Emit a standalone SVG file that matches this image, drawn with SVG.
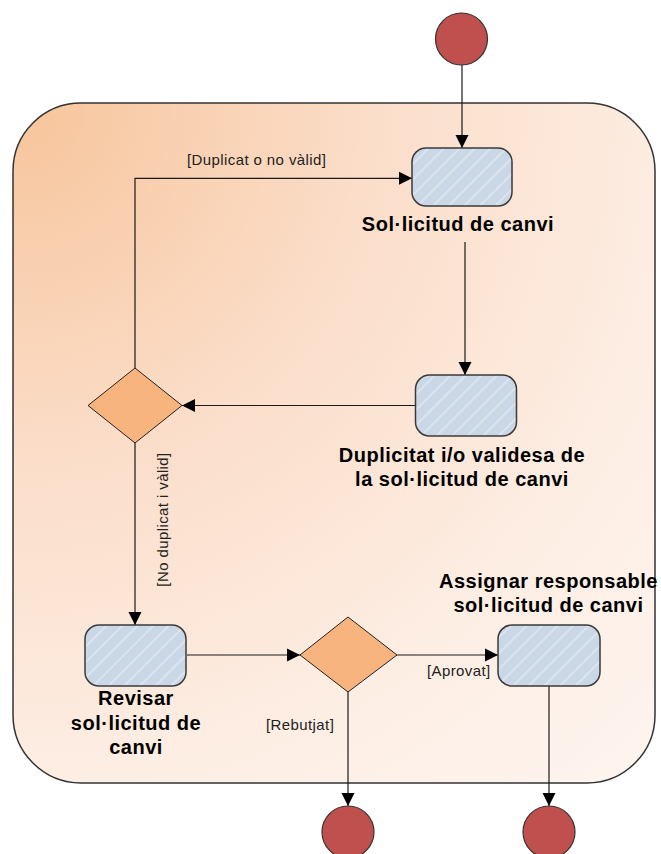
<svg xmlns="http://www.w3.org/2000/svg" width="661" height="854" viewBox="0 0 661 854">
<defs>
<radialGradient id="bg" gradientUnits="userSpaceOnUse" cx="20" cy="110" r="900">
<stop offset="0" stop-color="#F7C59C"/>
<stop offset="0.4" stop-color="#FBDECA"/>
<stop offset="0.75" stop-color="#FDEEE4"/>
<stop offset="1" stop-color="#FEF4EE"/>
</radialGradient>
<pattern id="hatch" patternUnits="userSpaceOnUse" width="11" height="11" patternTransform="rotate(45)">
<rect width="11" height="11" fill="#CAD7E6"/>
<rect x="0" y="0" width="1.6" height="11" fill="#DFE7F0"/>
</pattern>
<marker id="arr" markerUnits="userSpaceOnUse" markerWidth="14" markerHeight="14" refX="13" refY="7" orient="auto">
<path d="M0,0.5 L13,7 L0,13.5 Z" fill="#000"/>
</marker>
<style>
.st{fill:url(#hatch);stroke:#3a3a3a;stroke-width:1.5}
.dm{fill:#F8B47E;stroke:#222;stroke-width:1}
.ci{fill:#C0504D;stroke:#333;stroke-width:1.2}
.ln{fill:none;stroke:#1a1a1a;stroke-width:1.2;marker-end:url(#arr)}
.lb{font-family:"Liberation Sans",Arial,sans-serif;font-weight:bold;font-size:20px;letter-spacing:0.5px;fill:#000;text-anchor:middle}
.gd{font-family:"Liberation Sans",Arial,sans-serif;font-size:15px;letter-spacing:0.4px;fill:#222}
</style>
</defs>
<rect id="container" x="13" y="103" width="642" height="680" rx="68" ry="68" fill="url(#bg)" stroke="#333" stroke-width="1.5"/>
<g id="connectors">
<path class="ln" d="M462,65 V148"/>
<path class="ln" d="M465,242 V375"/>
<path class="ln" d="M415,405.5 H182"/>
<path class="ln" d="M135,368 V178.3 H412"/>
<path class="ln" d="M135,443 V625"/>
<path class="ln" d="M187,655 H300"/>
<path class="ln" d="M397,655 H498"/>
<path class="ln" d="M348,692 V806"/>
<path class="ln" d="M549,686 V806"/>
<text class="gd" x="187" y="165">[Duplicat o no vàlid]</text>
<text class="gd" transform="translate(168,519.5) rotate(-90)" text-anchor="middle">[No duplicat i vàlid]</text>
<text class="gd" x="427" y="676">[Aprovat]</text>
<text class="gd" x="266" y="730">[Rebutjat]</text>
</g>
<g id="start"><circle class="ci" cx="461.5" cy="39" r="26"/></g>
<g id="s1">
<rect class="st" x="412" y="148" width="100" height="58" rx="14"/>
<text class="lb" x="458" y="231">Sol·licitud de canvi</text>
</g>
<g id="s2">
<rect class="st" x="415.5" y="375" width="101" height="61" rx="14"/>
<text class="lb" x="462" y="461.5">Duplicitat i/o validesa de</text>
<text class="lb" x="462" y="485.5">la sol·licitud de canvi</text>
</g>
<g id="d1"><polygon class="dm" points="135,368 182,405.5 135,443 88,405.5"/></g>
<g id="s3">
<rect class="st" x="85" y="625" width="101" height="61" rx="14"/>
<text class="lb" x="136" y="705">Revisar</text>
<text class="lb" x="136" y="730">sol·licitud de</text>
<text class="lb" x="136" y="754">canvi</text>
</g>
<g id="d2"><polygon class="dm" points="348,617 397,655 348,692 300,655"/></g>
<g id="s4">
<rect class="st" x="498" y="625" width="102" height="61" rx="14"/>
<text class="lb" x="548.5" y="588">Assignar responsable</text>
<text class="lb" x="548.5" y="612">sol·licitud de canvi</text>
</g>
<g id="end1"><circle class="ci" cx="348" cy="832" r="26"/></g>
<g id="end2"><circle class="ci" cx="549" cy="832" r="26"/></g>
</svg>
